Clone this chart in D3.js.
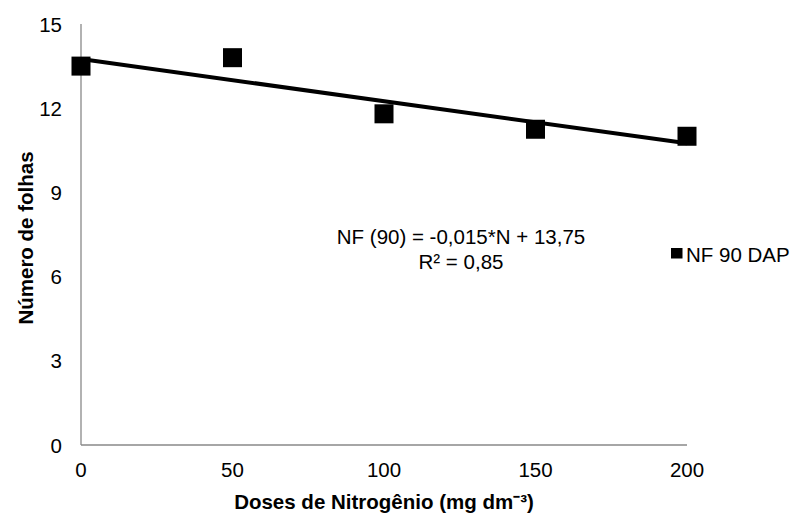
<html>
<script src="https://cdn.jsdelivr.net/npm/d3@7"></script>
<style>
  body { margin: 0; background: #fff; }
  text { font-family: "Liberation Sans", Arial, sans-serif; fill: #000; }
</style>
<body>
<svg width="794" height="513"></svg>
<script>
// data
const doses = [0, 50, 100, 150, 200];
const folhas = [13.5, 13.8, 11.8, 11.25, 11.0];
const xTicks = [0, 50, 100, 150, 200];
const yTicks = [0, 3, 6, 9, 12, 15];
const trend = { slope: -0.015, intercept: 13.75 };

const svg = d3.select("svg");
const fs = 20.5;

const x = d3.scaleLinear().domain([0, 200]).range([81, 687]);
const y = d3.scaleLinear().domain([0, 15]).range([445, 24]);

// axis lines
svg.append("line")
  .attr("x1", x(0)).attr("x2", x(0))
  .attr("y1", y(15)).attr("y2", y(0))
  .attr("stroke", "#898989").attr("stroke-width", 1.3);
svg.append("line")
  .attr("x1", x(0)).attr("x2", x(200))
  .attr("y1", y(0)).attr("y2", y(0))
  .attr("stroke", "#898989").attr("stroke-width", 1.3);

// tick labels
svg.selectAll(".yt").data(yTicks).enter().append("text")
  .attr("x", 62).attr("y", d => y(d) + 7.5)
  .attr("text-anchor", "end").attr("font-size", fs)
  .text(d => d);

svg.selectAll(".xt").data(xTicks).enter().append("text")
  .attr("x", d => x(d)).attr("y", 476.5)
  .attr("text-anchor", "middle").attr("font-size", fs)
  .text(d => d);

// trend line
svg.append("line")
  .attr("x1", x(0)).attr("y1", y(trend.intercept))
  .attr("x2", x(200)).attr("y2", y(trend.intercept + trend.slope * 200))
  .attr("stroke", "#000").attr("stroke-width", 4);

// markers
const s = 19;
svg.selectAll(".pt").data(doses).enter().append("rect")
  .attr("x", (d) => x(d) - s / 2)
  .attr("y", (d, i) => y(folhas[i]) - s / 2)
  .attr("width", s).attr("height", s)
  .attr("fill", "#000");

// equation
svg.append("text").attr("x", 461).attr("y", 243.5)
  .attr("text-anchor", "middle").attr("font-size", fs)
  .text("NF (90) = -0,015*N + 13,75");
svg.append("text").attr("x", 461).attr("y", 269)
  .attr("text-anchor", "middle").attr("font-size", fs)
  .text("R² = 0,85");

// legend
svg.append("rect").attr("x", 671).attr("y", 248)
  .attr("width", 11.5).attr("height", 10.5).attr("fill", "#000");
svg.append("text").attr("x", 686).attr("y", 261.5)
  .attr("font-size", fs).text("NF 90 DAP");

// axis titles
svg.append("text").attr("x", 384).attr("y", 509)
  .attr("text-anchor", "middle").attr("font-size", fs).attr("font-weight", "bold")
  .text("Doses de Nitrogênio (mg dm⁻³)");
svg.append("text")
  .attr("transform", "translate(33,238) rotate(-90)")
  .attr("text-anchor", "middle").attr("font-size", fs).attr("font-weight", "bold")
  .text("Número de folhas");
</script>
</body>
</html>
